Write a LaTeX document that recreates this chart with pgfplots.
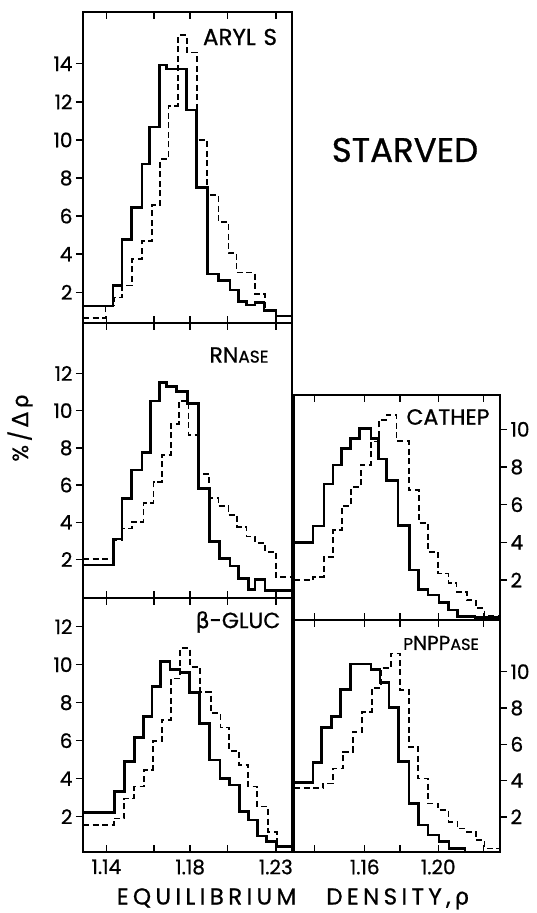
\documentclass[border=0pt]{standalone}
\usepackage{fontspec}
\setmainfont{Poppins}[FakeBold=0.8]
\newfontfamily\grk{DejaVu Sans}[FakeBold=0.6]
\usepackage{pgfplots}
\pgfplotsset{compat=1.18}
\pgfplotsset{
  panel/.style={
    scale only axis, anchor=south west,
    axis line style={line width=2.2pt},
    tick style={line width=1.4pt, black},
    major tick length=7pt,
    xtick align=inside, xtick pos=both,
    ytick align=outside,
    xticklabels={},
    /pgf/number format/assume math mode=true,
    ticklabel style={font=\fontsize{20}{20}\selectfont},
    xticklabel style={yshift=-4pt},
    clip=true,
  },
  leftp/.style={panel, xmin=1.1276, xmax=1.2386, width=209pt,
    xtick={1.14,1.1654,1.1845,1.2044,1.23}, ytick pos=left},
  rightp/.style={panel, xmin=1.1215, xmax=1.2336, width=206pt,
    xtick={1.1327,1.16,1.1791,1.20,1.2245}, ytick pos=right, yticklabel pos=right,
    ytick={2,4,6,8,10}},
  sol/.style={const plot, black, line width=2.6pt, line join=miter},
  dsh/.style={const plot, black, line width=1.7pt, dash pattern=on 6pt off 3.5pt},
}
\begin{document}
\begin{tikzpicture}[x=1pt,y=1pt]
\useasboundingbox (0,0) rectangle (537,913);
% ARYL S
\begin{axis}[leftp, at={(83pt,590pt)}, height=311pt, ymin=0.385, ymax=16.72, ytick={2,4,...,14}]
\addplot[sol] coordinates {(1.1276,1.28) (1.1435,2.35) (1.1483,4.78) (1.1532,6.44) (1.1589,8.74) (1.1629,10.68) (1.1681,13.94) (1.1721,13.73) (1.1827,11.58) (1.1880,7.50) (1.1936,2.96) (1.1995,2.61) (1.2056,2.12) (1.2101,1.51) (1.2145,1.33) (1.2189,1.45) (1.2238,1.03) (1.2300,0.75) (1.2386,0.75)};
\addplot[dsh] coordinates {(1.1276,0.63) (1.1395,1.30) (1.1439,1.72) (1.1483,2.35) (1.1536,3.75) (1.1589,4.70) (1.1642,6.60) (1.1686,9.00) (1.1730,11.80) (1.1779,15.50) (1.1827,14.60) (1.1880,10.00) (1.1933,7.10) (1.1995,5.70) (1.2048,4.05) (1.2092,3.03) (1.2189,1.91) (1.2242,1.07) (1.2304,0.75) (1.2386,0.75)};
\end{axis}
% RNase
\begin{axis}[leftp, at={(83pt,315pt)}, height=275pt, ymin=-0.07, ymax=14.71, ytick={2,4,...,12}]
\addplot[sol] coordinates {(1.1276,1.70) (1.1439,3.10) (1.1483,5.29) (1.1532,6.81) (1.1589,7.74) (1.1636,10.52) (1.1682,11.51) (1.1721,11.29) (1.1774,11.02) (1.1831,10.39) (1.1889,5.82) (1.1947,2.96) (1.2000,2.06) (1.2056,1.65) (1.2101,0.99) (1.2154,0.39) (1.2189,0.93) (1.2242,0.32) (1.2386,0.32)};
\addplot[dsh] coordinates {(1.1276,2.01) (1.1439,3.05) (1.1483,3.67) (1.1536,4.03) (1.1598,5.02) (1.1651,6.18) (1.1695,7.62) (1.1742,9.27) (1.1786,10.52) (1.1836,8.69) (1.1889,6.59) (1.1947,5.29) (1.1995,4.87) (1.2048,4.39) (1.2095,3.76) (1.2145,3.23) (1.2189,2.90) (1.2242,2.42) (1.2300,1.04) (1.2386,1.04)};
\end{axis}
% beta-GLUC
\begin{axis}[leftp, at={(83pt,61pt)}, height=254pt, ymin=0.14, ymax=13.51, ytick={2,4,...,12},
  xticklabels={1.14,,1.18,,1.23}]
\addplot[sol] coordinates {(1.1276,2.21) (1.1442,3.32) (1.1495,4.89) (1.1548,6.16) (1.1598,7.26) (1.1642,8.84) (1.1689,10.16) (1.1739,9.75) (1.1792,9.58) (1.1841,8.53) (1.1894,6.91) (1.1947,4.98) (1.2004,4.02) (1.2053,3.67) (1.2106,2.26) (1.2154,1.82) (1.2203,0.98) (1.2251,0.68) (1.2304,0.42) (1.2386,0.42)};
\addplot[dsh] coordinates {(1.1276,1.56) (1.1439,1.91) (1.1495,2.96) (1.1548,3.58) (1.1601,4.46) (1.1647,5.98) (1.1695,7.09) (1.1742,9.28) (1.1792,10.86) (1.1845,9.89) (1.1898,8.58) (1.1954,7.44) (1.2007,6.70) (1.2053,5.47) (1.2106,4.72) (1.2154,3.58) (1.2201,2.53) (1.2259,1.21) (1.2307,0.46) (1.2386,0.46)};
\end{axis}
% CATHEP
\begin{axis}[rightp, at={(294pt,293pt)}, height=225pt, ymin=-0.12, ymax=11.82]
\addplot[sol] coordinates {(1.1215,4.00) (1.1318,4.87) (1.1378,7.10) (1.1427,8.11) (1.1473,8.99) (1.1524,9.52) (1.1573,10.05) (1.1633,9.52) (1.1676,8.42) (1.1718,7.27) (1.1782,4.88) (1.1845,2.53) (1.1891,1.50) (1.1945,1.20) (1.2004,0.80) (1.2055,0.41) (1.2105,0.05) (1.2200,0.00) (1.2336,0.00)};
\addplot[dsh] coordinates {(1.1215,2.00) (1.1318,2.18) (1.1378,3.24) (1.1427,4.65) (1.1476,5.93) (1.1527,6.92) (1.1578,8.11) (1.1633,9.35) (1.1676,10.50) (1.1718,10.76) (1.1773,9.38) (1.1840,6.78) (1.1895,5.01) (1.1945,3.50) (1.2000,2.35) (1.2055,1.86) (1.2100,1.38) (1.2155,0.94) (1.2204,0.50) (1.2251,0.09) (1.2336,0.09)};
\end{axis}
% pNPPase
\begin{axis}[rightp, at={(294pt,61pt)}, height=232pt, ymin=0.06, ymax=12.85,
  xticklabels={,1.16,,1.20,}]
\addplot[sol] coordinates {(1.1215,3.88) (1.1318,4.98) (1.1364,6.93) (1.1418,7.52) (1.1469,9.03) (1.1524,10.42) (1.1633,10.13) (1.1682,9.39) (1.1731,8.03) (1.1785,5.04) (1.1840,2.74) (1.1891,1.54) (1.1945,0.99) (1.2004,0.63) (1.2058,0.26) (1.2145,0.06) (1.2336,0.06)};
\addplot[dsh] coordinates {(1.1215,3.57) (1.1373,3.84) (1.1427,4.67) (1.1482,5.59) (1.1536,6.69) (1.1585,7.79) (1.1640,9.10) (1.1687,10.20) (1.1742,11.00) (1.1791,9.00) (1.1840,5.86) (1.1891,4.12) (1.1945,2.74) (1.2000,2.37) (1.2055,1.73) (1.2105,1.36) (1.2155,1.18) (1.2204,0.72) (1.2251,0.26) (1.2336,0.26)};
\end{axis}
% labels
\node[font=\fontsize{23}{23}\selectfont] at (240,876) {ARYL\,\,S};
\node[font=\fontsize{22}{22}\selectfont] at (239,558) {RN{\fontsize{17}{17}\selectfont ASE}};
\node[font=\fontsize{22}{22}\selectfont] at (238,291) {{\grk β}-GLUC};
\node[font=\fontsize{22}{22}\selectfont, fill=white, inner sep=1pt] at (448,496) {CATHEP};
\node[font=\fontsize{20}{20}\selectfont] at (441,270) {{\fontsize{17}{17}\selectfont P}NPP{\fontsize{16}{16}\selectfont ASE}};
\node[font=\fontsize{34}{34}\selectfont] at (405,763) {STARVED};
\node[rotate=90, font=\fontsize{22}{22}\selectfont] at (20,485) {\%\,/\,{\grk Δ\,ρ}};
\node[anchor=base, inner sep=0pt, font=\fontsize{23}{23}\selectfont\addfontfeature{LetterSpace=19}] at (293,8.5) {EQUILIBRIUM\hspace{30pt}DENSITY,\,{\grk ρ}};
\end{tikzpicture}
\end{document}
